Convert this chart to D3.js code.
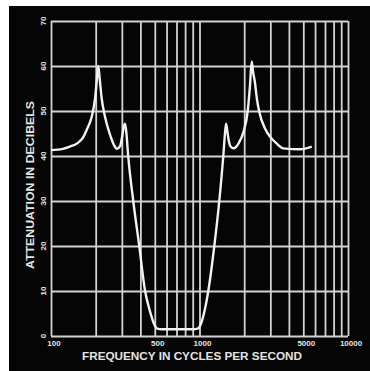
<!DOCTYPE html>
<html>
<head>
<meta charset="utf-8">
<script src="https://cdn.jsdelivr.net/npm/d3@7/dist/d3.min.js"></script>
<style>
  html, body { margin: 0; padding: 0; background: #fff; }
  svg { display: block; }
  text { font-family: "Liberation Sans", "DejaVu Sans", sans-serif; font-weight: bold; fill: #e4e4e4; }
</style>
</head>
<body>
<svg id="chart" width="370" height="371"></svg>
<script>
// Attenuation response of the band-pass filter (frequency in Hz, attenuation in dB)
const freqs = [100, 120, 134, 150, 165, 175, 188, 198, 203, 208, 213, 219, 230, 250, 265, 278,
  292, 302, 309, 315, 321, 331, 358, 393, 430, 464, 490, 515, 560, 700, 900, 980,
  1030, 1080, 1146, 1258, 1359, 1446, 1480, 1510, 1540, 1565, 1620, 1695, 1833, 1976,
  2112, 2187, 2246, 2300, 2358, 2440, 2527, 2761, 2984, 3300, 3666, 4760, 5700];
const attenuation = [41.3, 41.6, 42.1, 42.8, 44.2, 46, 48.7, 52.8, 56.5, 60, 57, 53, 49, 44.7, 42.5, 41.6,
  42.2, 44.5, 46.5, 47.2, 45.5, 40, 30, 20, 10, 5.5, 3, 1.7, 1.5, 1.5, 1.5, 1.7,
  3, 5.5, 10, 20, 30, 40, 44.5, 47.2, 45.5, 43.9, 42.1, 41.7, 42.8, 45.3,
  50, 55.6, 61, 58.5, 56.5, 52.5, 49.8, 46.1, 44.3, 42.8, 41.7, 41.5, 42.1];

// Grid positions and tick labels
const gridFreqs = [100, 200, 300, 400, 500, 600, 700, 800, 900, 1000,
  2000, 3000, 4000, 5000, 6000, 7000, 8000, 9000, 10000];
const gridDb = [0, 10, 20, 30, 40, 50, 60, 70];
const freqLabels = [100, 500, 1000, 5000, 10000];
const dbLabels = [0, 10, 20, 30, 40, 50, 60, 70];

const svg = d3.select("#chart");

// Black photographic plate
svg.append("rect").attr("x", 9).attr("y", 6).attr("width", 361).attr("height", 365).attr("fill", "#050505");

const x = d3.scaleLog().domain([100, 10000]).range([51, 348]);
const y = d3.scaleLinear().domain([0, 70]).range([336, 21]);

const gridColor = "#d2d2d2";

// Vertical grid lines
const gx = svg.append("g").attr("transform", `translate(0,${y(0)})`)
  .call(d3.axisBottom(x).tickValues(gridFreqs).tickSize(-(y(0) - y(70))).tickFormat(""));
gx.select(".domain").remove();
gx.selectAll(".tick line").attr("stroke", gridColor).attr("stroke-width", 1.8);

// Horizontal grid lines
const gy = svg.append("g").attr("transform", `translate(${x(100)},0)`)
  .call(d3.axisLeft(y).tickValues(gridDb).tickSize(-(x(10000) - x(100))).tickFormat(""));
gy.select(".domain").remove();
gy.selectAll(".tick line").attr("stroke", gridColor).attr("stroke-width", 1.8);

// Attenuation curve
const pts = freqs.map((f, i) => [f, attenuation[i]]);
const line = d3.line().x(d => x(d[0])).y(d => y(d[1])).curve(d3.curveMonotoneX);
svg.append("path").datum(pts).attr("d", line)
  .attr("fill", "none").attr("stroke", "#f2f2f2").attr("stroke-width", 2.4).attr("stroke-linejoin", "round");

// Frequency tick labels
svg.selectAll("text.xl").data(freqLabels).enter().append("text")
  .attr("class", "xl")
  .attr("x", d => x(d) + 3).attr("y", 346)
  .attr("text-anchor", "middle").attr("font-size", 8)
  .text(d => d);

// Attenuation tick labels (rotated)
svg.selectAll("text.yl").data(dbLabels).enter().append("text")
  .attr("class", "yl")
  .attr("transform", d => `translate(46,${y(d)}) rotate(-90)`)
  .attr("text-anchor", "middle").attr("font-size", 8)
  .text(d => d);

// Axis titles
svg.append("text")
  .attr("x", 192).attr("y", 360)
  .attr("text-anchor", "middle").attr("font-size", 11)
  .attr("textLength", 220).attr("lengthAdjust", "spacingAndGlyphs")
  .text("FREQUENCY IN CYCLES PER SECOND");

svg.append("text")
  .attr("transform", "translate(34,185) rotate(-90)")
  .attr("text-anchor", "middle").attr("font-size", 10.5)
  .attr("textLength", 168).attr("lengthAdjust", "spacingAndGlyphs")
  .text("ATTENUATION IN DECIBELS");
</script>
</body>
</html>
